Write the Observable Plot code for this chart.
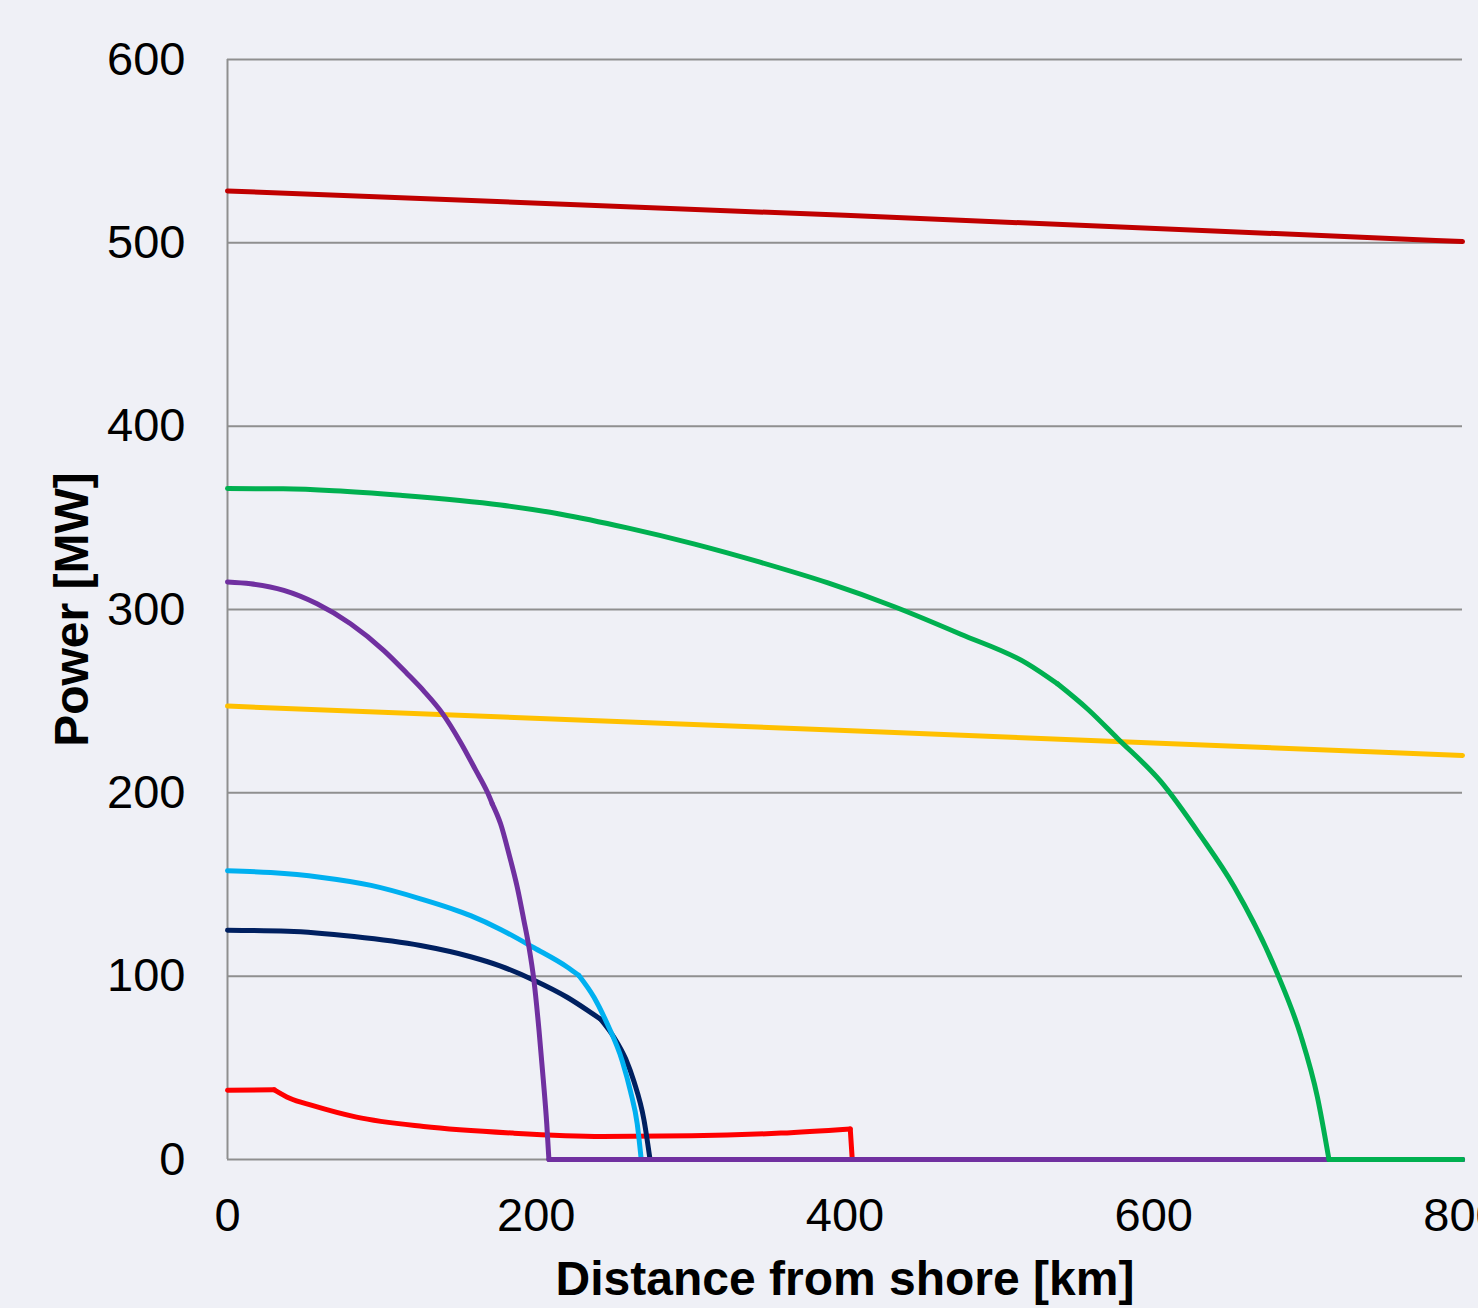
<!DOCTYPE html>
<html>
<head>
<meta charset="utf-8">
<script src="https://cdn.jsdelivr.net/npm/d3@7"></script>
<script src="https://cdn.jsdelivr.net/npm/@observablehq/plot@0.6"></script>
<style>
  html, body { margin: 0; padding: 0; background: #eff0f6; overflow: hidden; }
  #chart svg { display: block; }
</style>
</head>
<body>
<div id="chart"></div>
<script>
// Axis ticks and titles
const xTicks = [0, 200, 400, 600, 800];
const yTicks = [0, 100, 200, 300, 400, 500, 600];
const xTitle = "Distance from shore [km]";
const yTitle = "Power [MW]";

// Transmittable power vs. distance, one pair of arrays per case (km, MW),
// plus the distances at which a curve has a sharp corner.
const darkRedKm = [0, 400, 800];
const darkRedMW = [528.3, 515, 500.7];
const darkRedBreaks = [];

const yellowKm = [0, 400, 800];
const yellowMW = [247.3, 234, 220.4];
const yellowBreaks = [];

const redKm = [0, 30.3, 40.3, 54.8, 83.6, 127, 185, 242.8, 300.6, 358.5, 403.4, 404.7, 800];
const redMW = [37.8, 38, 33.4, 29.5, 23.1, 18, 14.4, 12.6, 12.9, 14.4, 16.7, 0, 0];
const redBreaks = [30.3, 403.4, 404.7];

const navyKm = [0, 39, 82, 125, 157.5, 176.9, 198.5, 220, 233, 241.7, 250.3, 257.9, 263.3, 269.8, 273.7, 800];
const navyMW = [125, 124.5, 121.6, 116.7, 110.6, 105.5, 97.8, 88.5, 81.5, 76.5, 66.7, 54.9, 42.5, 21.5, 0, 0];
const navyBreaks = [241.7, 273.7];

const cyanKm = [0, 28, 60, 93, 125, 157.5, 176.9, 198.5, 220, 227.6, 237.4, 246, 255.8, 261.1, 265.4, 268, 800];
const cyanMW = [157.5, 156.5, 154, 149.5, 142.2, 133, 125.5, 115.5, 105, 100.4, 88.5, 74, 53.5, 37, 19.5, 0, 0];
const cyanBreaks = [227.6, 268];

const purpleKm = [0, 15, 36.5, 58, 79.7, 101.3, 116.4, 127.2, 139.1, 151, 160.7, 168.3, 171.5, 176.9, 182.3, 187.7, 192, 195.3, 198.5, 201.8, 204.6, 206.8, 208.2, 800];
const purpleMW = [315, 314, 310.4, 303.1, 292.2, 277.6, 265, 255.5, 243.5, 227.5, 212.5, 200.4, 194, 183.1, 166.7, 148.5, 130.4, 115.8, 97.6, 70.4, 43.1, 19.5, 0, 0];
const purpleBreaks = [171.5, 208.2];

const greenKm = [0, 36, 69, 112, 177, 216, 259, 302, 345, 389, 432, 475, 518, 537.6, 557.3, 576.4, 604.5, 630.4, 652, 680, 695.2, 706, 713.5, 800];
const greenMW = [366, 365.8, 364.8, 362.3, 357, 352, 344.5, 335.8, 325.8, 314.5, 301.5, 286.5, 270.5, 259.5, 245.6, 229.8, 206.2, 176.5, 148.9, 101.5, 67.7, 34.1, 0, 0];
const greenBreaks = [537.6, 713.5];

// Drawing order (later lines sit on top) and stroke colours
const seriesKm = [darkRedKm, yellowKm, redKm, navyKm, cyanKm, purpleKm, greenKm];
const seriesMW = [darkRedMW, yellowMW, redMW, navyMW, cyanMW, purpleMW, greenMW];
const seriesBreaks = [darkRedBreaks, yellowBreaks, redBreaks, navyBreaks, cyanBreaks, purpleBreaks, greenBreaks];
const seriesColors = ["#c00000", "#ffc000", "#ff0000", "#002060", "#00b0f0", "#7030a0", "#00b050"];

const gridColor = "#8f8f8f";
const fontSize = 47;

// Split a curve into smooth pieces at its corners; the corner point is shared.
function pieces(kms, mws, breaks) {
  const rows = [];
  let seg = 0;
  kms.forEach((km, j) => {
    rows.push({km, mw: mws[j], seg});
    if (j > 0 && j < kms.length - 1 && breaks.includes(km)) {
      seg += 1;
      rows.push({km, mw: mws[j], seg});
    }
  });
  return rows;
}

const lines = seriesKm.map((kms, i) =>
  Plot.line(pieces(kms, seriesMW[i], seriesBreaks[i]), {
    x: "km",
    y: "mw",
    z: "seg",
    curve: "monotone-x",
    stroke: seriesColors[i],
    strokeWidth: 5,
    strokeLinejoin: "round",
    strokeLinecap: "round"
  })
);

const chart = Plot.plot({
  width: 1478,
  height: 1308,
  marginLeft: 227,
  marginRight: 16,
  marginTop: 59,
  marginBottom: 149,
  style: {
    background: "#eff0f6",
    fontFamily: "'Liberation Sans', Arial, sans-serif",
    color: "#000"
  },
  x: {domain: [0, 800]},
  y: {domain: [0, 600]},
  marks: [
    Plot.ruleY(yTicks, {stroke: gridColor, strokeWidth: 2}),
    Plot.ruleX([0], {stroke: gridColor, strokeWidth: 2}),
    Plot.axisX(xTicks, {
      tickSize: 0,
      tickPadding: 38,
      fontSize,
      label: null,
      tickFormat: d => String(d)
    }),
    Plot.axisY(yTicks, {
      tickSize: 0,
      tickPadding: 42,
      fontSize,
      label: null,
      tickFormat: d => String(d)
    }),
    ...lines,
    Plot.text([xTitle], {
      frameAnchor: "bottom",
      textAnchor: "middle",
      dy: 135,
      fontSize: 48,
      fontWeight: "bold",
      fill: "#000"
    }),
    Plot.text([yTitle], {
      frameAnchor: "left",
      textAnchor: "middle",
      dx: -155,
      rotate: -90,
      fontSize: 48,
      fontWeight: "bold",
      fill: "#000"
    })
  ]
});

document.getElementById("chart").appendChild(chart);
</script>
</body>
</html>
